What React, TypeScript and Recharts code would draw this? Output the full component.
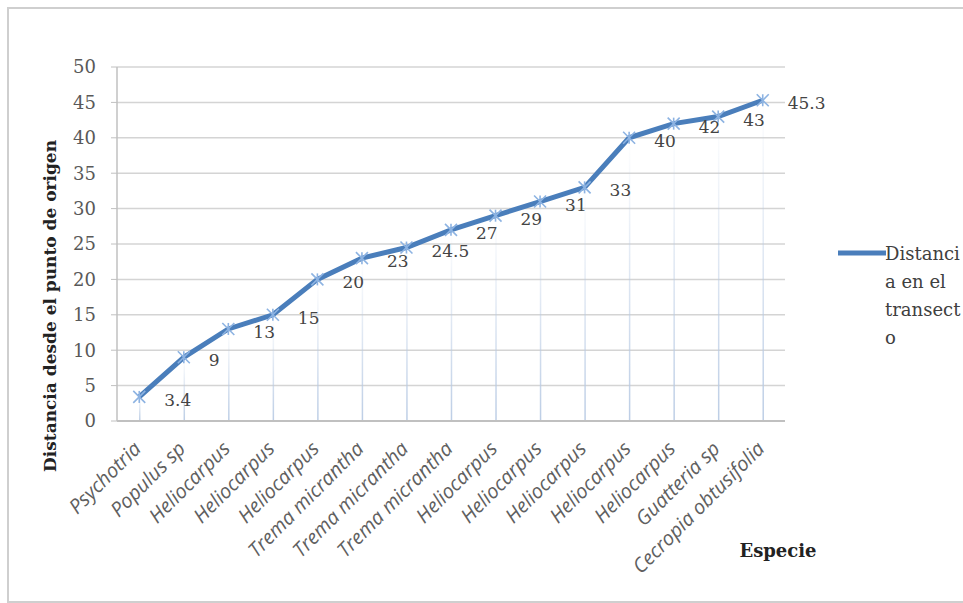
import { Bar, ComposedChart, LabelList, Line, XAxis, YAxis, CartesianGrid, Label } from "recharts";

const especies = [
  "Psychotria",
  "Populus sp",
  "Heliocarpus",
  "Heliocarpus",
  "Heliocarpus",
  "Trema micrantha",
  "Trema micrantha",
  "Trema micrantha",
  "Heliocarpus",
  "Heliocarpus",
  "Heliocarpus",
  "Heliocarpus",
  "Heliocarpus",
  "Guatteria sp",
  "Cecropia obtusifolia",
];
const distancias = [3.4, 9, 13, 15, 20, 23, 24.5, 27, 29, 31, 33, 40, 42, 43, 45.3];
const yTicks = [0, 5, 10, 15, 20, 25, 30, 35, 40, 45, 50];
const legendLines = ["Distanci", "a en el", "transect", "o"];

const data = especies.map((e, i) => ({ especie: e, distancia: distancias[i] }));

const serif = "'DejaVu Serif', serif";
const sans = "'Open Sans', sans-serif";

const XTick = ({ x, y, payload }: any) => (
  <g transform={`translate(${x + 3},${y + 27})`}>
    <text
      textAnchor="end"
      transform="rotate(-45)"
      fontFamily={sans}
      fontStyle="italic"
      fontSize={20}
      fill="#606060"
    >
      {payload.value}
    </text>
  </g>
);

const StarDot = ({ cx, cy }: any) => {
  if (cx == null || cy == null) return null;
  const r = 6;
  return (
    <g stroke="#8db3e2" strokeWidth={1.6}>
      <line x1={cx - r} y1={cy - r} x2={cx + r} y2={cy + r} />
      <line x1={cx - r} y1={cy + r} x2={cx + r} y2={cy - r} />
      <line x1={cx} y1={cy - r} x2={cx} y2={cy + r} />
    </g>
  );
};

const ValueLabel = ({ x, y, value }: any) => (
  <text x={x + 25} y={y + 9} fontFamily={serif} fontSize={17} fill="#444">
    {value}
  </text>
);

const LegendBox = () => (
  <div style={{ position: "absolute", left: 838, top: 240, width: 130, height: 110 }}>
    <svg width={50} height={10} style={{ position: "absolute", left: 0, top: 8 }}>
      <line x1={0} y1={5} x2={48} y2={5} stroke="#4a7ebb" strokeWidth={5} />
    </svg>
    <div
      style={{
        position: "absolute",
        left: 47,
        top: 0,
        fontFamily: serif,
        fontSize: 18,
        lineHeight: "28px",
        color: "#404040",
        whiteSpace: "pre",
      }}
    >
      {legendLines.map((l, i) => (
        <div key={i}>{l}</div>
      ))}
    </div>
  </div>
);

export default function App() {
  return (
    <div style={{ position: "absolute", left: 0, top: 0, width: 963, height: 603, background: "#fff", overflow: "hidden" }}>
      <div
        style={{
          position: "absolute",
          left: 7,
          top: 7,
          width: 980,
          height: 592,
          border: "2px solid #cfcfcf",
        }}
      />
      <div style={{ position: "absolute", left: 0, top: 0 }}>
        <ComposedChart
          width={963}
          height={603}
          data={data}
          margin={{ top: 67, right: 178, bottom: 0, left: 0 }}
        >
          <defs>
            <linearGradient id="dropFade" x1="0" y1="0" x2="0" y2="1">
              <stop offset="0%" stopColor="#b9cbe4" stopOpacity={0} />
              <stop offset="100%" stopColor="#b9cbe4" stopOpacity={0.95} />
            </linearGradient>
          </defs>
          <CartesianGrid vertical={false} stroke="#d4d4d4" strokeWidth={1.5} />
          <XAxis
            dataKey="especie"
            height={182}
            interval={0}
            tick={<XTick />}
            tickLine={false}
            tickSize={0}
            axisLine={{ stroke: "#c0c0c0", strokeWidth: 2 }}
          >
            <Label
              content={({ viewBox }: any) => (
                <text
                  x={viewBox.x + viewBox.width - 7}
                  y={viewBox.y + 136}
                  textAnchor="middle"
                  fontFamily={serif}
                  fontWeight="bold"
                  fontSize={18}
                  fill="#222"
                >
                  Especie
                </text>
              )}
            />
          </XAxis>
          <YAxis
            domain={[0, 50]}
            ticks={yTicks}
            interval={0}
            width={117}
            tickSize={6}
            tickMargin={15}
            tick={{ fontFamily: serif, fontSize: 18, fill: "#595959" }}
            tickLine={{ stroke: "#c0c0c0" }}
            axisLine={{ stroke: "#c0c0c0", strokeWidth: 1.5 }}
          >
            <Label
              content={() => (
                <text
                  x={0}
                  y={0}
                  transform="translate(56,306) rotate(-90)"
                  textAnchor="middle"
                  fontFamily={serif}
                  fontWeight="bold"
                  fontSize={17}
                  fill="#222"
                >
                  Distancia desde el punto de origen
                </text>
              )}
            />
          </YAxis>
          <Bar dataKey="distancia" barSize={1.5} fill="url(#dropFade)" isAnimationActive={false} legendType="none" />
          <Line
            dataKey="distancia"
            name="Distancia en el transecto"
            stroke="#4a7ebb"
            strokeWidth={5}
            dot={<StarDot />}
            activeDot={false}
            isAnimationActive={false}
          >
            <LabelList dataKey="distancia" content={<ValueLabel />} />
          </Line>
        </ComposedChart>
      </div>
      <LegendBox />
    </div>
  );
}
